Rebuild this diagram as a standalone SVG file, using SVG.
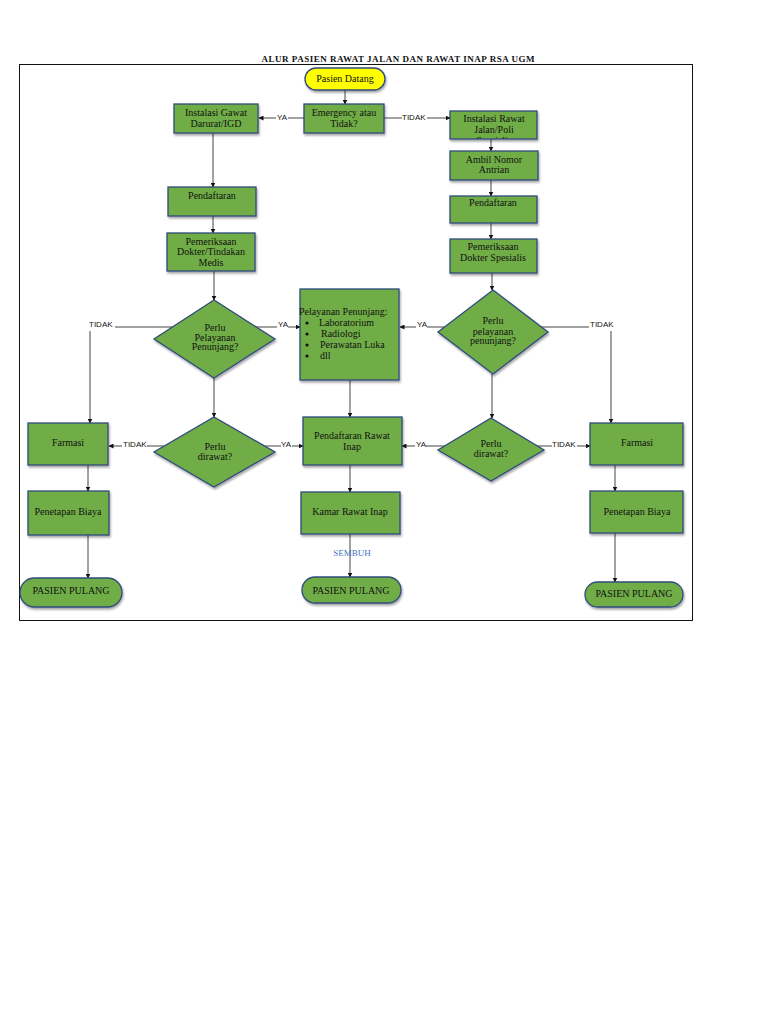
<svg xmlns="http://www.w3.org/2000/svg" width="768" height="1024" viewBox="0 0 768 1024">
<defs>
<marker id="arr" viewBox="0 0 10 10" refX="9" refY="5" markerWidth="5" markerHeight="5" orient="auto"><path d="M0,0 L10,5 L0,10 z" fill="#111"/></marker>
<filter id="sh" x="-10%" y="-10%" width="130%" height="140%"><feDropShadow dx="1" dy="2" stdDeviation="1.2" flood-color="#000" flood-opacity="0.35"/></filter>
<clipPath id="clipIRJ"><rect x="450" y="111" width="87" height="28"/></clipPath>
<style>
.box{fill:#70AD47;stroke:#2F4B7C;stroke-width:1.3;filter:url(#sh)}
.yel{fill:#FFFF00;stroke:#2F4B7C;stroke-width:1.3;filter:url(#sh)}
.t{font-family:"Liberation Serif","Times New Roman",serif;font-size:10px;fill:#111;text-anchor:middle}
.tl{font-family:"Liberation Serif","Times New Roman",serif;font-size:10px;fill:#111}
.lb{font-family:"Liberation Sans",Arial,sans-serif;font-size:8px;fill:#111}
.c{stroke:#444;stroke-width:1;fill:none}
.ca{stroke:#444;stroke-width:1;fill:none;marker-end:url(#arr)}
</style>
</defs>
<rect width="768" height="1024" fill="#fff"/>
<text x="398" y="62" font-family="'Liberation Serif','Times New Roman',serif" font-size="9" font-weight="bold" text-anchor="middle" textLength="273" fill="#111">ALUR PASIEN RAWAT JALAN DAN RAWAT INAP RSA UGM</text>
<rect x="19.5" y="64.5" width="673" height="556" fill="none" stroke="#111" stroke-width="1"/>

<g id="connectors">
<line class="ca" x1="345" y1="90" x2="345" y2="104"/>
<line class="c" x1="304" y1="118" x2="288" y2="118"/>
<line class="ca" x1="276" y1="118" x2="259" y2="118"/>
<line class="c" x1="384" y1="118" x2="402" y2="118"/>
<line class="ca" x1="427" y1="118" x2="450" y2="118"/>
<line class="ca" x1="213" y1="133" x2="213" y2="187"/>
<line class="ca" x1="213" y1="216" x2="213" y2="233"/>
<line class="ca" x1="214" y1="271" x2="214" y2="300"/>
<line class="ca" x1="491" y1="139" x2="491" y2="151"/>
<line class="ca" x1="491" y1="180" x2="491" y2="196"/>
<line class="ca" x1="491" y1="223" x2="491" y2="239"/>
<line class="ca" x1="492" y1="273" x2="492" y2="290"/>
<line class="c" x1="172" y1="327" x2="115" y2="327"/>
<line class="ca" x1="90" y1="331" x2="90" y2="423"/>
<line class="c" x1="256" y1="327" x2="277" y2="327"/>
<line class="ca" x1="288" y1="327" x2="300" y2="327"/>
<line class="c" x1="444" y1="327" x2="427" y2="327"/>
<line class="ca" x1="416" y1="327" x2="400" y2="327"/>
<line class="c" x1="541" y1="327" x2="589" y2="327"/>
<line class="ca" x1="611" y1="331" x2="611" y2="423"/>
<line class="ca" x1="214" y1="378" x2="214" y2="417"/>
<line class="ca" x1="492" y1="374" x2="492" y2="418"/>
<line class="ca" x1="350" y1="380" x2="350" y2="417"/>
<line class="c" x1="164" y1="446" x2="147" y2="446"/>
<line class="ca" x1="122" y1="446" x2="109" y2="446"/>
<line class="c" x1="265" y1="446" x2="281" y2="446"/>
<line class="ca" x1="292" y1="446" x2="303" y2="446"/>
<line class="c" x1="445" y1="446" x2="426" y2="446"/>
<line class="ca" x1="415" y1="446" x2="402" y2="446"/>
<line class="c" x1="537" y1="446" x2="552" y2="446"/>
<line class="ca" x1="577" y1="446" x2="590" y2="446"/>
<line class="ca" x1="88" y1="465" x2="88" y2="491"/>
<line class="ca" x1="88" y1="535" x2="88" y2="578"/>
<line class="ca" x1="350" y1="465" x2="350" y2="492"/>
<line class="ca" x1="350" y1="534" x2="350" y2="577"/>
<line class="ca" x1="615" y1="465" x2="615" y2="491"/>
<line class="ca" x1="615" y1="533" x2="615" y2="582"/>
<text class="lb" x="277" y="120">YA</text>
<text class="lb" x="402" y="120">TIDAK</text>
<text class="lb" x="89" y="327">TIDAK</text>
<text class="lb" x="278" y="327">YA</text>
<text class="lb" x="417" y="327">YA</text>
<text class="lb" x="590" y="327">TIDAK</text>
<text class="lb" x="123" y="447">TIDAK</text>
<text class="lb" x="281" y="447">YA</text>
<text class="lb" x="416" y="447">YA</text>
<text class="lb" x="552" y="447">TIDAK</text>
<text x="352" y="556" font-family="'Liberation Serif','Times New Roman',serif" font-size="9" fill="#4472C4" text-anchor="middle">SEMBUH</text>
</g>

<g id="pasien-datang"><rect class="yel" x="305" y="68" width="80" height="22" rx="11"/><text class="t" x="345" y="82">Pasien Datang</text></g>
<g id="emergency"><rect class="box" x="304" y="104" width="80" height="29"/><text class="t" x="344" y="116">Emergency atau</text><text class="t" x="344" y="127">Tidak?</text></g>
<g id="igd"><rect class="box" x="174" y="104" width="84" height="29"/><text class="t" x="216" y="116">Instalasi Gawat</text><text class="t" x="216" y="127">Darurat/IGD</text></g>
<g id="rawat-jalan"><rect class="box" x="450" y="111" width="87" height="28"/><text class="t" x="494" y="122">Instalasi Rawat</text><text class="t" x="494" y="133">Jalan/Poli</text><text class="t" x="494" y="144" clip-path="url(#clipIRJ)">Spesialis</text></g>
<g id="ambil-nomor"><rect class="box" x="450" y="151" width="88" height="29"/><text class="t" x="494" y="163">Ambil Nomor</text><text class="t" x="494" y="173">Antrian</text></g>
<g id="pendaftaran-kiri"><rect class="box" x="168" y="187" width="88" height="29"/><text class="t" x="212" y="199">Pendaftaran</text></g>
<g id="pemeriksaan-kiri"><rect class="box" x="167" y="233" width="88" height="38"/><text class="t" x="211" y="245">Pemeriksaan</text><text class="t" x="211" y="255">Dokter/Tindakan</text><text class="t" x="211" y="266">Medis</text></g>
<g id="pendaftaran-kanan"><rect class="box" x="450" y="196" width="87" height="27"/><text class="t" x="493" y="206">Pendaftaran</text></g>
<g id="pemeriksaan-kanan"><rect class="box" x="450" y="239" width="87" height="34"/><text class="t" x="493" y="250">Pemeriksaan</text><text class="t" x="493" y="261">Dokter Spesialis</text></g>
<g id="perlu-penunjang-kiri"><polygon class="box" points="214,300 275,339 214,378 154,339"/><text class="t" x="215" y="331">Perlu</text><text class="t" x="215" y="341">Pelayanan</text><text class="t" x="215" y="350">Penunjang?</text></g>
<g id="pelayanan-penunjang"><rect class="box" x="300" y="289" width="99" height="91"/>
<text class="tl" x="299" y="315">Pelayanan Penunjang:</text>
<circle cx="307" cy="323" r="1.6" fill="#111"/><text class="tl" x="319" y="326">Laboratorium</text>
<circle cx="307" cy="334" r="1.6" fill="#111"/><text class="tl" x="321" y="337">Radiologi</text>
<circle cx="307" cy="345" r="1.6" fill="#111"/><text class="tl" x="320" y="348">Perawatan Luka</text>
<circle cx="307" cy="356" r="1.6" fill="#111"/><text class="tl" x="320" y="359">dll</text></g>
<g id="perlu-penunjang-kanan"><polygon class="box" points="493,290 548,332 493,374 438,332"/><text class="t" x="493" y="324">Perlu</text><text class="t" x="493" y="335">pelayanan</text><text class="t" x="493" y="344">penunjang?</text></g>
<g id="perlu-dirawat-kiri"><polygon class="box" points="214,417 275,452 214,487 154,452"/><text class="t" x="215" y="450">Perlu</text><text class="t" x="215" y="460">dirawat?</text></g>
<g id="perlu-dirawat-kanan"><polygon class="box" points="491,418 544,450 491,481 438,450"/><text class="t" x="491" y="447">Perlu</text><text class="t" x="491" y="457">dirawat?</text></g>
<g id="farmasi-kiri"><rect class="box" x="28" y="423" width="80" height="42"/><text class="t" x="68" y="446">Farmasi</text></g>
<g id="pendaftaran-rawat-inap"><rect class="box" x="303" y="417" width="99" height="48"/><text class="t" x="352" y="439">Pendaftaran Rawat</text><text class="t" x="352" y="450">Inap</text></g>
<g id="farmasi-kanan"><rect class="box" x="590" y="423" width="93" height="42"/><text class="t" x="637" y="446">Farmasi</text></g>
<g id="biaya-kiri"><rect class="box" x="28" y="491" width="81" height="44"/><text class="t" x="68" y="515">Penetapan Biaya</text></g>
<g id="kamar-rawat-inap"><rect class="box" x="301" y="492" width="99" height="42"/><text class="t" x="350" y="515">Kamar Rawat Inap</text></g>
<g id="biaya-kanan"><rect class="box" x="590" y="491" width="93" height="42"/><text class="t" x="637" y="515">Penetapan Biaya</text></g>
<g id="pulang-kiri"><rect class="box" x="20" y="578" width="102" height="29" rx="14.5"/><text class="t" x="71" y="594">PASIEN PULANG</text></g>
<g id="pulang-tengah"><rect class="box" x="302" y="577" width="99" height="26" rx="13"/><text class="t" x="351" y="594">PASIEN PULANG</text></g>
<g id="pulang-kanan"><rect class="box" x="585" y="582" width="98" height="25" rx="12.5"/><text class="t" x="634" y="597">PASIEN PULANG</text></g>
</svg>
